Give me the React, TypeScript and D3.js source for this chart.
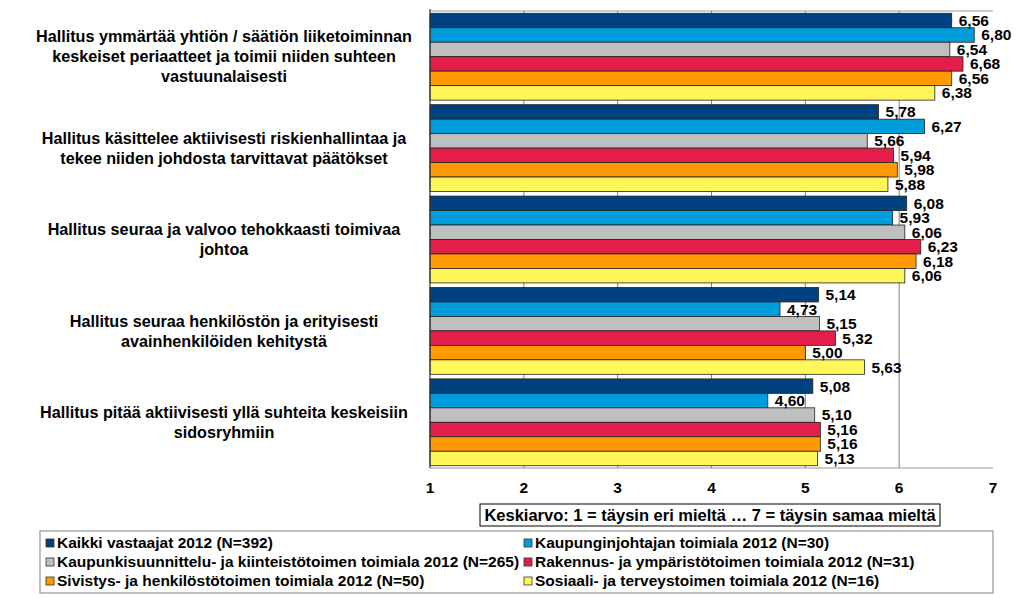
import React from "react";
import * as d3 from "d3";

const categories: string[][] = [
  ["Hallitus ymmärtää yhtiön / säätiön liiketoiminnan", "keskeiset periaatteet ja toimii niiden suhteen", "vastuunalaisesti"],
  ["Hallitus käsittelee aktiivisesti riskienhallintaa ja", "tekee niiden johdosta tarvittavat päätökset"],
  ["Hallitus seuraa ja valvoo tehokkaasti toimivaa", "johtoa"],
  ["Hallitus seuraa henkilöstön ja erityisesti", "avainhenkilöiden kehitystä"],
  ["Hallitus pitää aktiivisesti yllä suhteita keskeisiin", "sidosryhmiin"],
];

const seriesNames = [
  "Kaikki vastaajat 2012 (N=392)",
  "Kaupunginjohtajan toimiala 2012 (N=30)",
  "Kaupunkisuunnittelu- ja kiinteistötoimen toimiala 2012 (N=265)",
  "Rakennus- ja ympäristötoimen toimiala 2012 (N=31)",
  "Sivistys- ja henkilöstötoimen toimiala 2012 (N=50)",
  "Sosiaali- ja terveystoimen toimiala 2012 (N=16)",
];

const kaikki = [6.56, 5.78, 6.08, 5.14, 5.08];
const kaupunginjohtaja = [6.8, 6.27, 5.93, 4.73, 4.6];
const kaupunkisuunnittelu = [6.54, 5.66, 6.06, 5.15, 5.1];
const rakennus = [6.68, 5.94, 6.23, 5.32, 5.16];
const sivistys = [6.56, 5.98, 6.18, 5.0, 5.16];
const sosiaali = [6.38, 5.88, 6.06, 5.63, 5.13];

const seriesValues = [kaikki, kaupunginjohtaja, kaupunkisuunnittelu, rakennus, sivistys, sosiaali];
const colors = ["#00427F", "#009DDC", "#BFBFBF", "#E41E4B", "#FF9A00", "#FFF75A"];
const xTicks = [1, 2, 3, 4, 5, 6, 7];
const axisTitle = "Keskiarvo: 1 = täysin eri mieltä … 7 = täysin samaa mieltä";

const W = 1024;
const H = 598;
const FONT = "Arial, 'Liberation Sans', sans-serif";

export default function App() {
  const plotTop = 11;
  const plotBottom = 468;
  const x = d3.scaleLinear().domain([1, 7]).range([430, 993]);
  const y0 = d3
    .scaleBand<number>()
    .domain(d3.range(categories.length))
    .range([plotTop, plotBottom])
    .paddingInner(0.05)
    .paddingOuter(0.025);
  const y1 = d3
    .scaleBand<number>()
    .domain(d3.range(seriesNames.length))
    .range([0, y0.bandwidth()]);
  const fmt = (v: number) => d3.format(".2f")(v).replace(".", ",");

  const legendRows = 3;
  const legendX = [46, 524];
  const legendY = d3.scalePoint<number>().domain(d3.range(legendRows)).range([543, 581]);

  return (
    <svg
      width={W}
      height={H}
      style={{ position: "absolute", left: 0, top: 0, background: "#fff" }}
      fontFamily={FONT}
    >
      <rect x={0} y={0} width={W} height={H} fill="#fff" />
      {/* gridlines */}
      {xTicks.slice(1, -1).map((t) => (
        <line key={t} x1={x(t)} x2={x(t)} y1={plotTop} y2={plotBottom} stroke="#808080" strokeWidth={1} />
      ))}
      <line x1={x(1)} x2={x(7)} y1={plotTop} y2={plotTop} stroke="#9a9a9a" strokeWidth={1} />
      <line x1={x(1)} x2={x(7)} y1={plotBottom} y2={plotBottom} stroke="#9a9a9a" strokeWidth={1} />
      {/* bars */}
      {categories.map((_, ci) => (
        <g key={ci} transform={`translate(0,${y0(ci)})`}>
          {seriesValues.map((vals, si) => (
            <rect
              key={si}
              x={x(1)}
              y={y1(si)}
              width={x(vals[ci]) - x(1)}
              height={y1.bandwidth()}
              fill={colors[si]}
              stroke="#222"
              strokeWidth={0.8}
            />
          ))}
          {seriesValues.map((vals, si) => (
            <text
              key={"l" + si}
              x={x(vals[ci]) + 7}
              y={(y1(si) as number) + y1.bandwidth() / 2}
              dy="0.35em"
              fontSize={15.5}
              fontWeight="bold"
              fill="#000"
            >
              {fmt(vals[ci])}
            </text>
          ))}
        </g>
      ))}
      {/* left axis */}
      <line x1={x(1)} x2={x(1)} y1={plotTop - 2} y2={plotBottom} stroke="#333" strokeWidth={1.2} />
      {/* category labels */}
      {categories.map((lines, ci) => {
        const cy = (y0(ci) as number) + y0.bandwidth() / 2;
        const lh = 20;
        const start = cy - ((lines.length - 1) * lh) / 2;
        return (
          <text key={ci} textAnchor="middle" fontSize={16.2} fontWeight="bold" fill="#000">
            {lines.map((ln, li) => (
              <tspan key={li} x={224} y={start + li * lh} dy="0.35em">
                {ln}
              </tspan>
            ))}
          </text>
        );
      })}
      {/* x tick labels */}
      {xTicks.map((t) => (
        <text key={t} x={x(t)} y={488} textAnchor="middle" dy="0.35em" fontSize={15.5} fontWeight="bold">
          {t}
        </text>
      ))}
      {/* axis title box */}
      <rect x={480} y={504} width={460} height={22} fill="#fff" stroke="#000" strokeWidth={1} />
      <text x={710} y={515} textAnchor="middle" dy="0.35em" fontSize={16.5} fontWeight="bold">
        {axisTitle}
      </text>
      {/* legend */}
      <rect x={40} y={531} width={953} height={62} fill="#fff" stroke="#808080" strokeWidth={1} />
      {seriesNames.map((name, i) => {
        const col = i % 2;
        const row = Math.floor(i / 2);
        const lx = legendX[col];
        const ly = legendY(row) as number;
        return (
          <g key={i}>
            <rect x={lx} y={ly - 4} width={8} height={8} fill={colors[i]} stroke="#333" strokeWidth={0.8} />
            <text x={lx + 11} y={ly} dy="0.35em" fontSize={15.5} fontWeight="bold">
              {name}
            </text>
          </g>
        );
      })}
    </svg>
  );
}
